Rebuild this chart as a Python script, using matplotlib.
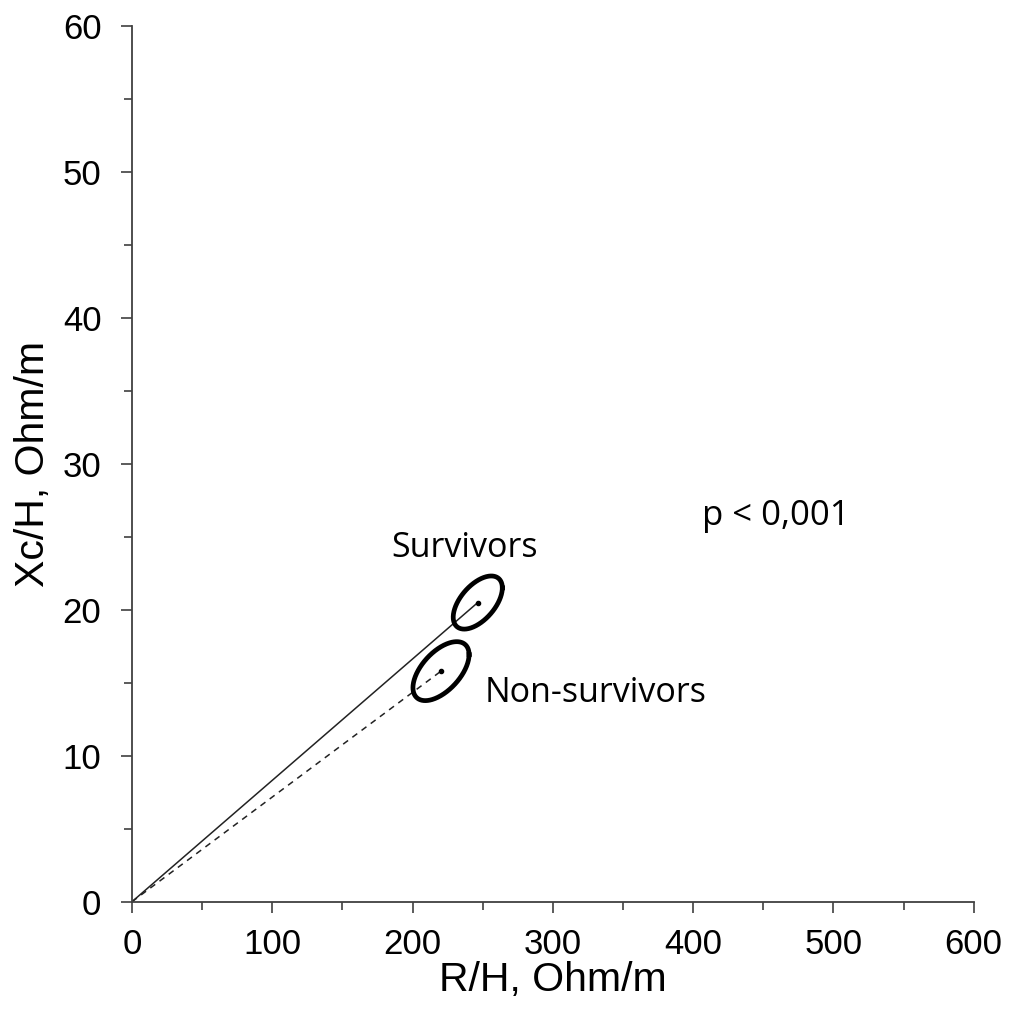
import matplotlib.pyplot as plt
from matplotlib.ticker import MultipleLocator
import numpy as np

# group means (R/H, Xc/H) and spread of the confidence ellipses
groups = ['Survivors', 'Non-survivors']
r_mean = [246.5, 220.3]
xc_mean = [20.5, 15.8]
r_spread = [17.5, 20.0]
xc_spread = [1.82, 2.02]
corr = [0.55, 0.56]
line_styles = ['-', '--']
label_pos = [(184.7, 23.6), (251.7, 13.7)]
p_text = 'p < 0,001'

plt.rcParams['font.family'] = ['Liberation Sans', 'DejaVu Sans']
axis_color = '#404040'

fig = plt.figure(figsize=(10.15, 10.09), dpi=100)
ax = fig.add_axes([0.130, 0.1063, 0.8293, 0.8679])

t = np.linspace(0, 2 * np.pi, 300)
for i, name in enumerate(groups):
    # line from origin to the group mean
    ax.plot([0, r_mean[i]], [0, xc_mean[i]], color='#222222', lw=1.1,
            ls=line_styles[i], dashes=(4, 3.5) if i == 1 else (None, None),
            solid_capstyle='butt')
    d = np.arccos(corr[i])
    ex = r_mean[i] + r_spread[i] * np.cos(t)
    ey = xc_mean[i] + xc_spread[i] * np.cos(t - d)
    ax.plot(ex, ey, color='black', lw=3.4)
    ax.plot(r_mean[i], xc_mean[i], 'o', color='black', ms=3)
    ax.text(label_pos[i][0], label_pos[i][1], name, family='Open Sans',
            fontsize=24.5, ha='left', va='baseline')

ax.text(406.4, 25.8, p_text, family='Open Sans', fontsize=25,
        ha='left', va='baseline')

ax.set_xlim(0, 600)
ax.set_ylim(0, 60)
ax.xaxis.set_major_locator(MultipleLocator(100))
ax.xaxis.set_minor_locator(MultipleLocator(50))
ax.yaxis.set_major_locator(MultipleLocator(10))
ax.yaxis.set_minor_locator(MultipleLocator(5))

for s in ['top', 'right']:
    ax.spines[s].set_visible(False)
for s in ['left', 'bottom']:
    ax.spines[s].set_color(axis_color)
    ax.spines[s].set_linewidth(1.3)

ax.tick_params(which='major', length=8, width=1.2, color=axis_color,
               labelsize=25, pad=11)
ax.tick_params(which='minor', length=6, width=1.2, color=axis_color)
ax.tick_params(axis='y', which='major', pad=14)

ax.set_xlabel('R/H, Ohm/m', fontsize=29.5, labelpad=0)
ax.set_ylabel('Xc/H, Ohm/m', fontsize=29.5, labelpad=8)

fig.savefig('out.png', dpi=100, facecolor='white')
